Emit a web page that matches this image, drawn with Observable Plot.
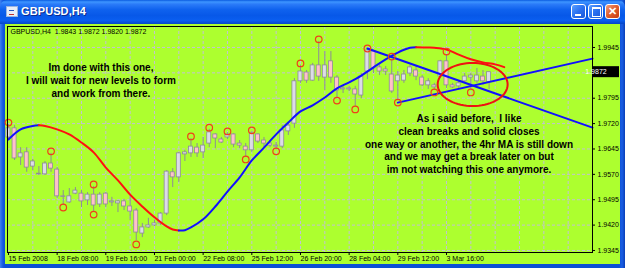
<!DOCTYPE html>
<html><head><meta charset="utf-8">
<script src="https://cdn.jsdelivr.net/npm/d3@7"></script>
<script src="https://cdn.jsdelivr.net/npm/@observablehq/plot@0.6"></script>
<style>
html,body{margin:0;padding:0;background:#fff;}
#win{position:relative;width:625px;height:268px;overflow:hidden;background:linear-gradient(to right,#3f82f0 0px,#1258e0 3px,#0b4fd6 5px,#0b4fd6 619px,#1a5ee4 622px,#0a3fb8 625px);font-family:"Liberation Sans",Arial,sans-serif;}
#titlebar{position:absolute;left:0;top:0;width:625px;height:24px;border-radius:7px 7px 0 0;background:linear-gradient(to bottom,#0a5be0 0%,#3d95ff 8%,#2a7af8 18%,#0f62ee 40%,#0758e8 65%,#0a5ef0 85%,#0646c8 100%);}
#icon{position:absolute;left:6px;top:6px;width:10px;height:9px;background:#e8eef8;border:1px solid #9ab4e0;}
#icon:after{content:"";position:absolute;left:2px;top:3px;width:5px;height:3px;border-top:1px solid #2050c0;border-bottom:1px solid #c03030;}
#title{position:absolute;left:21px;top:5px;color:#fff;font-weight:bold;font-size:11px;text-shadow:1px 1px 0 #0a2a90;letter-spacing:0.1px;}
.btn{position:absolute;top:4px;width:15px;height:15px;border:1px solid #fff;border-radius:3px;box-sizing:border-box;background:linear-gradient(135deg,#5aa0ff 0%,#2a70f0 50%,#1a56d8 100%);}
#bmin{left:571px;}
#bmin span{position:absolute;left:3px;top:9px;width:6px;height:2px;background:#fff;}
#bmax{left:588px;}
#bmax span{position:absolute;left:3px;top:2px;width:7px;height:7px;border:1px solid #fff;border-top-width:2px;box-sizing:content-box;}
#bclose{left:605px;background:linear-gradient(135deg,#f0a080 0%,#e06030 45%,#c83c10 100%);color:#fff;font-weight:bold;font-size:11px;line-height:13px;text-align:center;}
#chart{position:absolute;left:5px;top:24px;width:615px;height:240px;}
</style>
</head><body>
<div id="win">
  <div id="titlebar">
    <div id="icon"></div>
    <div id="title">GBPUSD,H4</div>
    <div class="btn" id="bmin"><span></span></div>
    <div class="btn" id="bmax"><span></span></div>
    <div class="btn" id="bclose">✕</div>
  </div>
  <div id="chart"></div>
</div>
<script>
// ---------- data ----------
const symbolName = "GBPUSD,H4";
const opens  = [1.9679,1.9706,1.9620,1.9635,1.9593,1.9572,1.9570,1.9602,1.9584,1.9505,
                1.9487,1.9513,1.9513,1.9493,1.9510,1.9481,1.9513,1.9487,1.9484,1.9490,
                1.9475,1.9463,1.9395,1.9413,1.9419,1.9425,1.9454,1.9576,1.9561,1.9629,
                1.9632,1.9649,1.9635,1.9661,1.9688,1.9673,1.9679,1.9688,1.9661,1.9652,
                1.9641,1.9688,1.9670,1.9661,1.9652,1.9652,1.9697,1.9720,1.9845,1.9871,
                1.9847,1.9892,1.9856,1.9904,1.9856,1.9821,1.9824,1.9821,1.9803,1.9874,
                1.9933,1.9886,1.9880,1.9865,1.9845,1.9847,1.9868,1.9877,1.9856,1.9833,
                1.9833,1.9859,1.9904,1.9833,1.9830,1.9845,1.9856,1.9845,1.9859,1.9843];
const highs  = [1.9717,1.9714,1.9649,1.9649,1.9614,1.9593,1.9608,1.9632,1.9590,1.9522,
                1.9528,1.9531,1.9522,1.9516,1.9534,1.9516,1.9516,1.9502,1.9493,1.9496,
                1.9508,1.9469,1.9425,1.9440,1.9434,1.9457,1.9581,1.9587,1.9635,1.9641,
                1.9676,1.9661,1.9679,1.9703,1.9690,1.9679,1.9693,1.9690,1.9670,1.9661,
                1.9696,1.9690,1.9679,1.9670,1.9664,1.9714,1.9723,1.9853,1.9892,1.9877,
                1.9898,1.9963,1.9933,1.9933,1.9862,1.9833,1.9830,1.9830,1.9868,1.9940,
                1.9936,1.9892,1.9889,1.9910,1.9874,1.9877,1.9892,1.9892,1.9862,1.9853,
                1.9839,1.9907,1.9924,1.9839,1.9847,1.9868,1.9868,1.9883,1.9877,1.9872];
const lows   = [1.9670,1.9611,1.9596,1.9576,1.9581,1.9567,1.9567,1.9576,1.9499,1.9478,
                1.9484,1.9510,1.9472,1.9478,1.9457,1.9472,1.9472,1.9475,1.9457,1.9463,
                1.9434,1.9374,1.9383,1.9410,1.9416,1.9419,1.9448,1.9531,1.9546,1.9608,
                1.9620,1.9620,1.9617,1.9649,1.9646,1.9661,1.9673,1.9649,1.9646,1.9620,
                1.9635,1.9661,1.9649,1.9649,1.9643,1.9646,1.9685,1.9706,1.9839,1.9839,
                1.9845,1.9845,1.9818,1.9839,1.9797,1.9809,1.9815,1.9771,1.9794,1.9850,
                1.9868,1.9862,1.9862,1.9809,1.9791,1.9839,1.9859,1.9847,1.9830,1.9821,
                1.9818,1.9853,1.9824,1.9824,1.9824,1.9839,1.9821,1.9839,1.9833,1.9820];
const closes = [1.9706,1.9617,1.9632,1.9590,1.9608,1.9570,1.9602,1.9587,1.9505,1.9503,
                1.9505,1.9522,1.9490,1.9510,1.9478,1.9510,1.9481,1.9490,1.9490,1.9475,
                1.9460,1.9398,1.9413,1.9419,1.9425,1.9454,1.9578,1.9561,1.9632,1.9635,
                1.9652,1.9632,1.9655,1.9694,1.9676,1.9664,1.9688,1.9658,1.9655,1.9641,
                1.9691,1.9667,1.9661,1.9655,1.9655,1.9700,1.9714,1.9845,1.9874,1.9847,
                1.9892,1.9859,1.9892,1.9856,1.9818,1.9824,1.9821,1.9806,1.9859,1.9936,
                1.9883,1.9874,1.9874,1.9815,1.9862,1.9865,1.9886,1.9859,1.9833,1.9845,
                1.9827,1.9904,1.9833,1.9827,1.9839,1.9859,1.9862,1.9862,1.9845,1.9872];

// moving average (bar index, value)
const maBars   = [0,2,4,5,6,8,10,12,14,16,18,20,22,24,26,27,28,29,30,32,34,36,38,40,42,44,46,48,50,52,54,56,58,60,62,64,66,67,69,70,72,74,76,78,80,81.5];
const maValues = [1.9673,1.9703,1.9713,1.9715,1.9713,1.9703,1.9688,1.9664,1.9635,1.9590,1.9552,1.9510,1.9475,1.9443,1.9416,1.9407,1.9404,1.9405,1.9413,1.9437,1.9475,1.9519,1.9561,1.9611,1.9649,1.9688,1.9723,1.9756,1.9774,1.9797,1.9824,1.9842,1.9862,1.9886,1.9910,1.9930,1.9944,1.9946,1.9945,1.9944,1.9939,1.9924,1.9910,1.9901,1.9895,1.9887];

// fractal markers
const fractalBars   = [0,7,9,14,14,21,30,33,36,39,40,44,48,51,54,57,59,63,64,70,72,76];
const fractalPrices = [1.9723,1.9638,1.9472,1.9540,1.9451,1.9363,1.9682,1.9708,1.9697,1.9614,1.9700,1.9638,1.9898,1.9969,1.9788,1.9762,1.9942,1.9918,1.9782,1.9812,1.9933,1.9812];

// trend lines
const trendDownBars = [59, 96], trendDownPrices = [1.9942, 1.9708];
const trendUpBars   = [64, 96], trendUpPrices   = [1.9782, 1.9912];

// axes
const priceTicks = [1.9345,1.9420,1.9495,1.9570,1.9645,1.9720,1.9795,1.9870,1.9945];
const lastClose = 1.9872;
const timeTickBars = [0,8,16,24,32,40,48,56,64,72];
const timeTickLabels = ["15 Feb 2008","18 Feb 08:00","19 Feb 16:00","21 Feb 00:00","22 Feb 08:00","25 Feb 12:00","26 Feb 20:00","28 Feb 04:00","29 Feb 12:00","3 Mar 16:00"];
const gridStepBars = 4;

// annotations
const noteLeft  = {bar: 15.2, price: 1.98489, text: "Im done with this one,\nI will wait for new levels to form\nand work from there."};
const noteRight = {bar: 75.7, price: 1.96612, text: "As i said before,  I like\nclean breaks and solid closes\none way or another, the 4hr MA is still down\nand we may get a break later on but\nim not watching this one anymore."};
const ellipseCenterBar = 76.3, ellipseCenterPrice = 1.98356, ellipseRxBars = 5.75, ellipseRyPrice = 0.00636;

// ---------- build ----------
const RED = "#ff1010", BLUE = "#1010ff";
const candles = opens.map((o, i) => ({i, o, h: highs[i], l: lows[i], c: closes[i]}));
const ma = maBars.map((b, k) => ({i: b, p: maValues[k]}));
const maSegs = [];
let seg = 0, prevDir = null;
for (let k = 1; k < ma.length; k++) {
  const dir = ma[k].p >= ma[k - 1].p;
  if (dir !== prevDir) { seg++; maSegs.push({...ma[k - 1], seg, color: dir ? BLUE : RED}); prevDir = dir; }
  maSegs.push({...ma[k], seg, color: dir ? BLUE : RED});
}
const fractals = fractalBars.map((b, k) => ({i: b, p: fractalPrices[k]}));
const trendDown = trendDownBars.map((b, k) => ({i: b, p: trendDownPrices[k]}));
const trendUp = trendUpBars.map((b, k) => ({i: b, p: trendUpPrices[k]}));
const ellipsePts = d3.range(72).map(k => {
  const t = 2 * Math.PI * k / 72;
  return {i: ellipseCenterBar + ellipseRxBars * Math.cos(t), p: ellipseCenterPrice + ellipseRyPrice * Math.sin(t)};
});
const gridBars = d3.range(gridStepBars, 96, gridStepBars);
const header = `${symbolName}  ${[opens[79], highs[79], lows[79], closes[79]].map(d3.format(".4f")).join(" ")}`;

const W = 615, H = 240, mL = 2, mR = 28, mT = 2, mB = 12;
const FONT = "Liberation Sans, Arial, sans-serif";
const notes = [noteLeft, noteRight];

const plot = Plot.plot({
  width: W, height: H,
  marginLeft: mL, marginRight: mR, marginTop: mT, marginBottom: mB,
  x: {domain: [-0.16, 96]},
  y: {domain: [1.9339, 2.0007]},
  color: {type: "identity"},
  style: {background: "#adff2f", fontFamily: FONT, fontSize: "7px", color: "black", overflow: "visible"},
  marks: [
    Plot.ruleX(gridBars, {stroke: "#c2c2d2", strokeDasharray: "3,2", strokeWidth: 1}),
    Plot.ruleY(priceTicks, {stroke: "#c2c2d2", strokeDasharray: "3,2", strokeWidth: 1}),
    Plot.ruleX(candles, {x: "i", y1: "l", y2: "h", stroke: "#8c8c98", strokeWidth: 1}),
    Plot.rect(candles, {x1: d => d.i - 0.33, x2: d => d.i + 0.33, y1: "o", y2: "c",
      fill: d => d.c >= d.o ? "#dcdce8" : "#ffc0cb", stroke: "#8c8c98", strokeWidth: 0.8}),
    Plot.line(trendDown, {x: "i", y: "p", stroke: BLUE, strokeWidth: 2}),
    Plot.line(trendUp, {x: "i", y: "p", stroke: BLUE, strokeWidth: 2}),
    Plot.line(maSegs, {x: "i", y: "p", z: "seg", stroke: "color", strokeWidth: 2, curve: "catmull-rom"}),
    Plot.dot(fractals, {x: "i", y: "p", r: 3.3, stroke: "#f0401a", strokeWidth: 1.2, fill: "none"}),
    Plot.line(ellipsePts, {x: "i", y: "p", curve: "linear-closed", stroke: "#404040", strokeOpacity: 0.4, strokeWidth: 2.5, dx: 2, dy: 3, ariaLabel: "blurred"}),
    Plot.line(ellipsePts, {x: "i", y: "p", curve: "linear-closed", stroke: "#ee1111", strokeWidth: 2}),
    Plot.text(notes, {x: "bar", y: "price", text: "text", fontSize: 10, fontWeight: "bold", lineHeight: 1.28, fill: "black", ariaLabel: "shadowed"}),
    Plot.text([header], {text: d => d, frameAnchor: "top-left", textAnchor: "start", lineAnchor: "top", dx: 3, dy: 3, fontSize: 7, fill: "black"}),
    Plot.axisY({ticks: priceTicks.filter(t => t !== 1.9870), anchor: "right", tickFormat: d3.format(".4f"), tickSize: 2, tickPadding: 3, fontSize: 7, stroke: "black", fill: "black", label: null}),
    Plot.axisX({ticks: timeTickBars, anchor: "bottom", tickFormat: d => timeTickLabels[timeTickBars.indexOf(d)], tickSize: 3, tickPadding: 1, textAnchor: "start", dx: 0, fontSize: 7, stroke: "black", fill: "black", label: null}),
    Plot.frame({stroke: "black"})
  ]
});

// filters
const svg = d3.select(plot);
const defs = svg.insert("defs", ":first-child");
const f = defs.append("filter").attr("id", "dshadow").attr("x", "-10%").attr("y", "-20%").attr("width", "125%").attr("height", "150%");
f.append("feGaussianBlur").attr("in", "SourceAlpha").attr("stdDeviation", 1.1).attr("result", "b");
f.append("feOffset").attr("in", "b").attr("dx", 2).attr("dy", 2).attr("result", "o");
f.append("feFlood").attr("flood-color", "#303030").attr("flood-opacity", 0.5).attr("result", "fl");
f.append("feComposite").attr("in", "fl").attr("in2", "o").attr("operator", "in").attr("result", "s");
const fm = f.append("feMerge");
fm.append("feMergeNode").attr("in", "s");
fm.append("feMergeNode").attr("in", "SourceGraphic");
svg.selectAll('g[aria-label="shadowed"]').attr("filter", "url(#dshadow)");
defs.append("filter").attr("id", "blur").attr("filterUnits", "userSpaceOnUse")
  .attr("x", 0).attr("y", 0).attr("width", W).attr("height", H)
  .append("feGaussianBlur").attr("stdDeviation", 1.1);
svg.selectAll('g[aria-label="blurred"]').attr("filter", "url(#blur)");

// current price box
const yPix = plot.scale("y").apply(lastClose);
const box = svg.append("g");
box.append("rect").attr("x", W - mR + 1).attr("y", yPix - 5.5).attr("width", 26).attr("height", 11).attr("fill", "black");
box.append("text").attr("x", W - mR + 4).attr("y", yPix).attr("dy", "0.35em").attr("fill", "white")
  .style("font", `7px ${FONT}`).text(d3.format(".4f")(lastClose));

document.getElementById("chart").appendChild(plot);
</script>
</body></html>
